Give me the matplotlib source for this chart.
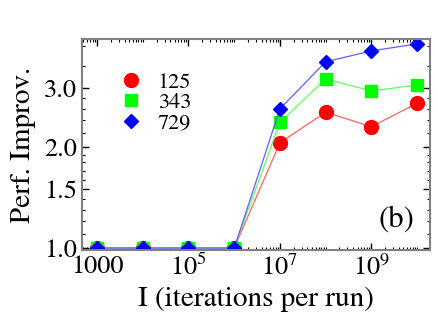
import matplotlib
matplotlib.use("Agg")
import matplotlib.pyplot as plt
from matplotlib.ticker import FixedLocator, LogLocator, NullFormatter, FixedFormatter

plt.rcParams['font.family'] = ['STIXGeneral', 'DejaVu Sans']
plt.rcParams['mathtext.fontset'] = 'stix'

iterations = [1e3, 1e4, 1e5, 1e6, 1e7, 1e8, 1e9, 1e10]
perf_125 = [1.0, 1.0, 1.0, 1.0, 2.06, 2.54, 2.30, 2.70]
perf_343 = [1.0, 1.0, 1.0, 1.0, 2.37, 3.19, 2.94, 3.06]
perf_729 = [1.0, 1.0, 1.0, 1.0, 2.60, 3.59, 3.87, 4.06]

x_ticks = [1e3, 1e5, 1e7, 1e9]
x_tick_labels = ['1000', r'$10^5$', r'$10^7$', r'$10^9$']
y_ticks = [1.0, 1.5, 2.0, 3.0]
y_tick_labels = ['1.0', '1.5', '2.0', '3.0']

fig = plt.figure(figsize=(4.36, 3.33), dpi=100)
ax = fig.add_axes([0.188, 0.249, 0.798, 0.634])

ax.plot(iterations, perf_125, color='#ff6060', lw=0.9, marker='o', ms=10,
        mfc='#ff0000', mec='#ff0000', label='125')
ax.plot(iterations, perf_343, color='#60ff60', lw=0.9, marker='s', ms=9,
        mfc='#00ff00', mec='#00ff00', label='343')
ax.plot(iterations, perf_729, color='#6060ff', lw=0.9, marker='D', ms=7.5,
        mfc='#0000ff', mec='#0000ff', label='729')

ax.set_xscale('log')
ax.set_yscale('log')
ax.set_xlim(10**2.67, 10**10.28)
ax.set_ylim(0.986, 4.2)

ax.xaxis.set_major_locator(FixedLocator(x_ticks))
ax.xaxis.set_major_formatter(FixedFormatter(x_tick_labels))
ax.xaxis.set_minor_locator(LogLocator(base=10, subs=range(1, 10), numticks=20))
ax.xaxis.set_minor_formatter(NullFormatter())
ax.yaxis.set_major_locator(FixedLocator(y_ticks))
ax.yaxis.set_major_formatter(FixedFormatter(y_tick_labels))
ax.yaxis.set_minor_locator(FixedLocator([1.1, 1.2, 1.3, 1.4, 1.6, 1.7, 1.8, 1.9,
                                         2.2, 2.4, 2.6, 2.8, 3.5, 4.0]))
ax.yaxis.set_minor_formatter(NullFormatter())

ax.tick_params(which='both', direction='in', top=True, right=True,
               colors='black', labelsize=19)
ax.tick_params(which='major', length=5, width=1)
ax.tick_params(which='minor', length=2.5, width=0.8)
for s in ax.spines.values():
    s.set_color('#808080')
    s.set_linewidth(1.5)

ax.set_xlabel('I (iterations per run)', fontsize=21, labelpad=4)
ax.set_ylabel('Perf. Improv.', fontsize=21, labelpad=6)

leg = ax.legend(loc='upper left', bbox_to_anchor=(0.09, 0.885), frameon=False,
                fontsize=16, handlelength=0.8, handletextpad=0.8,
                labelspacing=0.0, borderaxespad=0)
for h in leg.legend_handles:
    h.set_linestyle('None')
ax.text(0.955, 0.08, '(b)', transform=ax.transAxes, ha='right', va='bottom',
        fontsize=22)

fig.savefig('out.png', dpi=100)
